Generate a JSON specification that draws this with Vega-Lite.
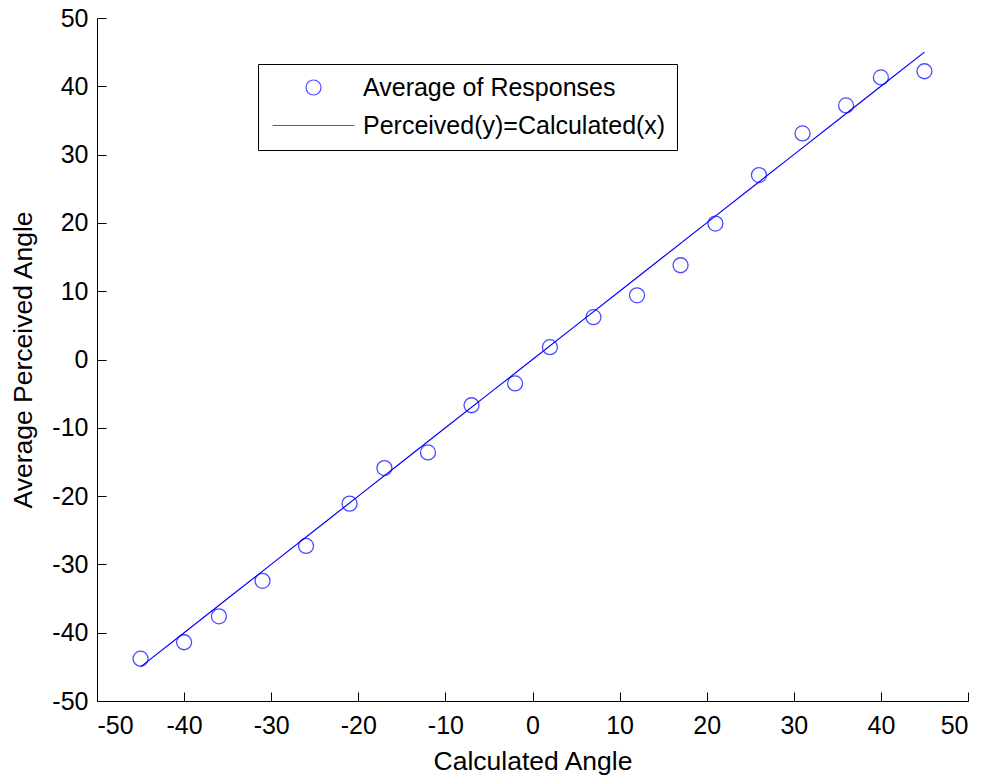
{
  "$schema": "https://vega.github.io/schema/vega-lite/v6.json",
  "width": 871,
  "height": 683,
  "autosize": "none",
  "padding": {"left": 97, "top": 18, "right": 16, "bottom": 76},
  "background": "white",
  "config": {
    "view": {"stroke": null},
    "font": "Liberation Sans",
    "axis": {
      "grid": false,
      "domainColor": "#000000",
      "domainWidth": 1,
      "tickColor": "#000000",
      "tickWidth": 1,
      "tickSize": -9,
      "labelColor": "#000000",
      "titleColor": "#000000",
      "labelFont": "Liberation Sans",
      "titleFont": "Liberation Sans",
      "labelFontSize": 25,
      "titleFontSize": 26.5,
      "titleFontWeight": "normal",
      "labelExpr": "datum.value < 0 ? '-' + (-datum.value) : '' + datum.value"
    },
    "legend": {
      "labelFont": "Liberation Sans"
    }
  },
  "datasets": {
    "responses": [
      {"calculated": -45, "perceived": -43.8},
      {"calculated": -40, "perceived": -41.4},
      {"calculated": -36, "perceived": -37.6},
      {"calculated": -31, "perceived": -32.4},
      {"calculated": -26, "perceived": -27.3},
      {"calculated": -21, "perceived": -21.1},
      {"calculated": -17, "perceived": -15.9},
      {"calculated": -12, "perceived": -13.6},
      {"calculated": -7, "perceived": -6.7},
      {"calculated": -2, "perceived": -3.5},
      {"calculated": 2, "perceived": 1.8},
      {"calculated": 7, "perceived": 6.2},
      {"calculated": 12, "perceived": 9.4},
      {"calculated": 17, "perceived": 13.8},
      {"calculated": 21, "perceived": 19.9},
      {"calculated": 26, "perceived": 27.0},
      {"calculated": 31, "perceived": 33.1},
      {"calculated": 36, "perceived": 37.2},
      {"calculated": 40, "perceived": 41.3},
      {"calculated": 45, "perceived": 42.2}
    ],
    "identity": [
      {"calculated": -45, "perceived": -45},
      {"calculated": -40, "perceived": -40},
      {"calculated": -35, "perceived": -35},
      {"calculated": -30, "perceived": -30},
      {"calculated": -25, "perceived": -25},
      {"calculated": -20, "perceived": -20},
      {"calculated": -15, "perceived": -15},
      {"calculated": -10, "perceived": -10},
      {"calculated": -5, "perceived": -5},
      {"calculated": 0, "perceived": 0},
      {"calculated": 5, "perceived": 5},
      {"calculated": 10, "perceived": 10},
      {"calculated": 15, "perceived": 15},
      {"calculated": 20, "perceived": 20},
      {"calculated": 25, "perceived": 25},
      {"calculated": 30, "perceived": 30},
      {"calculated": 35, "perceived": 35},
      {"calculated": 40, "perceived": 40},
      {"calculated": 45, "perceived": 45}
    ],
    "legendItems": [
      {"series": "Average of Responses"},
      {"series": "Perceived(y)=Calculated(x)"}
    ]
  },
  "layer": [
    {
      "data": {"name": "identity"},
      "mark": {"type": "line", "color": "#0000ff", "strokeWidth": 1.2},
      "encoding": {
        "x": {
          "field": "calculated",
          "type": "quantitative",
          "scale": {"domain": [-50, 50], "nice": false, "zero": false},
          "axis": {
            "title": "Calculated Angle",
            "values": [-50, -40, -30, -20, -10, 0, 10, 20, 30, 40, 50],
            "labelPadding": 21,
            "titlePadding": 10
          }
        },
        "y": {
          "field": "perceived",
          "type": "quantitative",
          "scale": {"domain": [-50, 50], "nice": false, "zero": false},
          "axis": {
            "title": "Average Perceived Angle",
            "values": [-50, -40, -30, -20, -10, 0, 10, 20, 30, 40, 50],
            "labelPadding": 18,
            "titlePadding": 14
          }
        }
      }
    },
    {
      "data": {"name": "responses"},
      "mark": {"type": "point", "shape": "circle", "filled": false, "color": "#0000ff", "size": 225, "strokeWidth": 1.3},
      "encoding": {
        "x": {"field": "calculated", "type": "quantitative"},
        "y": {"field": "perceived", "type": "quantitative"}
      }
    },
    {
      "data": {"name": "legendItems"},
      "transform": [{"filter": "false"}],
      "mark": {"type": "point", "filled": false, "color": "#0000ff"},
      "encoding": {
        "shape": {
          "field": "series",
          "type": "nominal",
          "scale": {
            "domain": ["Average of Responses", "Perceived(y)=Calculated(x)"],
            "range": ["M3.27,0A1,1,0,1,0,5.27,0A1,1,0,1,0,3.27,0", "M-1.2,0L9.73,0"]
          },
          "legend": {
            "title": null,
            "orient": "none",
            "legendX": 161,
            "legendY": 46,
            "padding": 11,
            "fillColor": "#ffffff",
            "strokeColor": "#000000",
            "cornerRadius": 0,
            "symbolSize": 225,
            "symbolStrokeWidth": 1.2,
            "symbolStrokeColor": "#0000ff",
            "symbolFillColor": "transparent",
            "labelFontSize": 25,
            "labelColor": "#000000",
            "labelOffset": 69,
            "labelLimit": 600,
            "rowPadding": 12
          }
        }
      }
    }
  ]
}
